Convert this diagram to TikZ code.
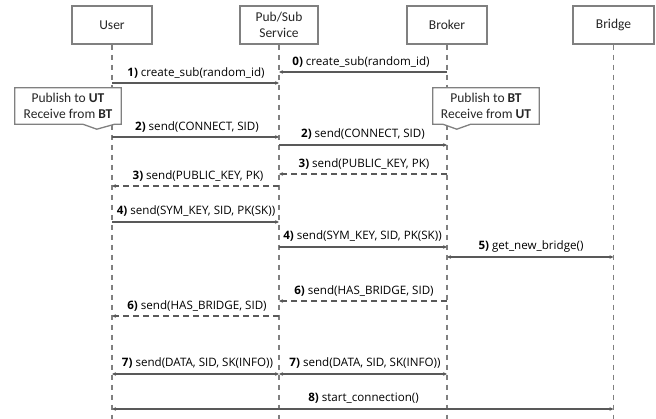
\documentclass[tikz,border=0pt]{standalone}
\usepackage{fontspec}
\setmainfont{Carlito}
\newfontfamily\msgfont{Open Sans}
\usetikzlibrary{arrows.meta,calc}
\definecolor{boxgray}{RGB}{128,128,128}
\definecolor{arrgray}{RGB}{89,89,89}
\definecolor{txtgray}{RGB}{38,38,38}
\begin{document}
\begin{tikzpicture}[x=1pt,y=-1pt,
  actor/.style={draw=boxgray,line width=1.3pt,fill=white,minimum width=80pt,minimum height=38pt,
    font=\fontsize{13.5}{16}\selectfont,text=txtgray,align=center,inner sep=0pt},
  life/.style={draw=boxgray,line width=1.3pt,dash pattern=on 5pt off 5pt},
  tip/.tip={Stealth[length=4pt,width=3.6pt]},
  msg/.style={draw=arrgray,line width=1.2pt,-tip},
  dmsg/.style={msg,dash pattern=on 6pt off 4pt},
  bmsg/.style={draw=arrgray,line width=1.2pt,tip-tip},
  lbl/.style={font=\msgfont\fontsize{11.6}{13.5}\selectfont,inner sep=0pt,text=black},
  notetext/.style={font=\fontsize{13.5}{16}\selectfont,text=txtgray,align=center,inner sep=0pt,
    minimum width=106pt,minimum height=36pt},
  notebox/.style={draw=boxgray,line width=1.3pt,fill=white,line join=miter}
]
\useasboundingbox (0,0) rectangle (656,419);

% actors
\node[actor] (user) at (112,25) {User};
\node[actor,minimum width=78pt] (pubsub) at (279,25) {Pub/Sub\\Service};
\node[actor] (broker) at (447,25) {Broker};
\node[actor,minimum width=81pt] (bridge) at (613.5,25) {Bridge};

% lifelines
\coordinate (uend) at (user.south |- 0,419);
\coordinate (pend) at (pubsub.south |- 0,419);
\coordinate (bend) at (broker.south |- 0,419);
\coordinate (rend) at (bridge.south |- 0,419);
\draw[life] (user.south) -- (uend);
\draw[life] (pubsub.south) -- (pend);
\draw[life] (broker.south) -- (bend);
\draw[life] (bridge.south) -- (rend);

% notes
\node[notetext] (unote) at (68,106) {};
\draw[notebox] (unote.north west) -- (unote.north east) -- (unote.south east)
  -- ($(unote.south west)+(100,0)$) -- ($(unote.south west)+(82,5)$)
  -- ($(unote.south west)+(68,0)$) -- (unote.south west) -- cycle;
\node[notetext] at (unote) {Publish to \textbf{UT}\\Receive from \textbf{BT}};

\node[notetext] (bnote) at (486,106) {};
\draw[notebox] (bnote.north west) -- (bnote.north east) -- (bnote.south east)
  -- ($(bnote.south west)+(38,0)$) -- ($(bnote.south west)+(24,5)$)
  -- ($(bnote.south west)+(10,0)$) -- (bnote.south west) -- cycle;
\node[notetext] at (bnote) {Publish to \textbf{BT}\\Receive from \textbf{UT}};

% messages
\draw[msg] (broker |- 0,72) -- (pubsub |- 0,72);
\node[lbl] (l0) at (361,62) {\textbf{0)} create\_sub(random\_id)};

\draw[msg] (user |- 0,83) -- (pubsub |- 0,83);
\node[lbl] (l1) at (196,73) {\textbf{1)} create\_sub(random\_id)};

\draw[msg] (user |- 0,137) -- (pubsub |- 0,137);
\node[lbl] (l2a) at (197,127) {\textbf{2)} send(CONNECT, SID)};

\draw[msg] (pubsub |- 0,145) -- (broker |- 0,145);
\node[lbl] (l2b) at (363,134) {\textbf{2)} send(CONNECT, SID)};

\draw[dmsg] (broker |- 0,174) -- (pubsub |- 0,174);
\node[lbl] (l3a) at (364,164) {\textbf{3)} send(PUBLIC\_KEY, PK)};

\draw[dmsg] (pubsub |- 0,186) -- (user |- 0,186);
\node[lbl] (l3b) at (198,176) {\textbf{3)} send(PUBLIC\_KEY, PK)};

\draw[msg] (user |- 0,222) -- (pubsub |- 0,222);
\node[lbl] (l4a) at (196,211) {\textbf{4)} send(SYM\_KEY, SID, PK(SK))};

\draw[msg] (pubsub |- 0,247) -- (broker |- 0,247);
\node[lbl] (l4b) at (362.5,236) {\textbf{4)} send(SYM\_KEY, SID, PK(SK))};

\draw[bmsg] (broker |- 0,257) -- (bridge |- 0,257);
\node[lbl] (l5) at (531,246) {\textbf{5)} get\_new\_bridge()};

\draw[dmsg] (broker |- 0,301) -- (pubsub |- 0,301);
\node[lbl] (l6a) at (364,291) {\textbf{6)} send(HAS\_BRIDGE, SID)};

\draw[dmsg] (pubsub |- 0,316) -- (user |- 0,316);
\node[lbl] (l6b) at (197,306) {\textbf{6)} send(HAS\_BRIDGE, SID)};

\draw[bmsg] (user |- 0,374) -- (pubsub |- 0,374);
\node[lbl] (l7a) at (197.5,363) {\textbf{7)} send(DATA, SID, SK(INFO))};

\draw[bmsg] (pubsub |- 0,374) -- (broker |- 0,374);
\node[lbl] (l7b) at (365,363) {\textbf{7)} send(DATA, SID, SK(INFO))};

\draw[bmsg] (user |- 0,409) -- (bridge |- 0,409);
\node[lbl] (l8) at (363.5,398) {\textbf{8)} start\_connection()};
\end{tikzpicture}
\end{document}
